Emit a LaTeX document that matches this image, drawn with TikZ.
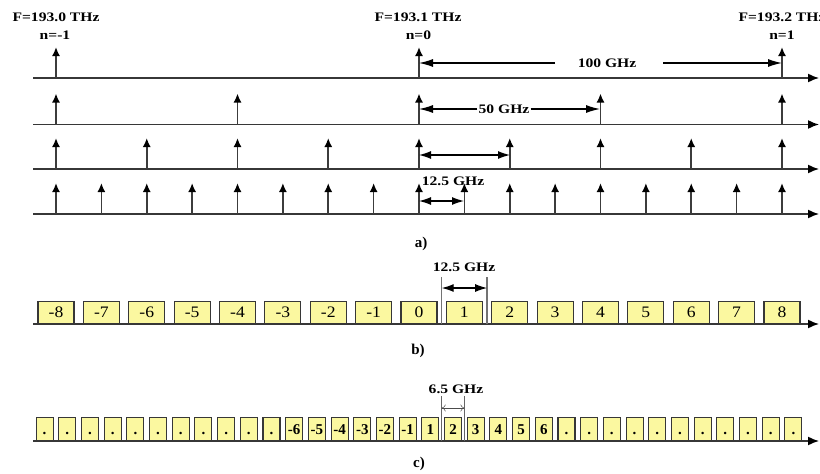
\documentclass[tikz,border=0pt]{standalone}
\usepackage{fontspec}
\setmainfont{Liberation Serif}
\newfontfamily\labfont{Liberation Serif}[FakeStretch=1.2]
\newfontfamily\numfont{Liberation Serif}[FakeStretch=1.1]
\usetikzlibrary{arrows.meta}
\definecolor{boxyellow}{RGB}{251,248,160}
\definecolor{axgray}{RGB}{55,55,55}
\definecolor{stemgray}{RGB}{60,60,60}
\begin{document}
\begin{tikzpicture}[x=1pt,y=-1pt,
  axis/.style={draw=axgray,line width=1.5pt,-{Latex[length=11pt,width=9pt,color=black]}},
  stem/.style={draw=stemgray,line width=1.7pt,-{Latex[length=9pt,width=8pt,color=black]}},
  dimarrow/.style={draw=black,line width=1.2pt,-{Latex[length=14pt,width=8pt]}},
  dimboth/.style={draw=black,line width=1.2pt,{Latex[length=12pt,width=8pt]}-{Latex[length=12pt,width=8pt]}},
  thinboth/.style={draw=black!70,line width=0.5pt,{To[length=4pt,width=7pt]}-{To[length=4pt,width=7pt]}},
  guide/.style={draw=black!55,line width=1.4pt},
  thinguide/.style={draw=black!60,line width=0.9pt},
  lab/.style={font=\labfont\bfseries\fontsize{13}{13}\selectfont,inner sep=1pt},
  partlabel/.style={font=\bfseries\fontsize{15}{15}\selectfont,inner sep=1pt},
  bbox/.style={draw=axgray,line width=1.1pt,fill=boxyellow,minimum width=36pt,minimum height=22pt,inner sep=0pt,anchor=south,
    text height=11pt,text depth=0pt,font=\numfont\fontsize{16}{16}\selectfont},
  cbox/.style={draw=axgray,line width=1.1pt,fill=boxyellow,minimum width=17pt,minimum height=23pt,inner sep=0pt,anchor=south,
    text height=10.5pt,text depth=0pt,font=\bfseries\fontsize{15}{15}\selectfont}
]
\useasboundingbox (0,0) rectangle (820,474);

% ---------------- a) rows ----------------
\foreach \r/\y/\ks in {1/78/{0,8,16},2/124.5/{0,4,8,12,16},3/169/{0,2,4,6,8,10,12,14,16},4/214/{0,1,2,3,4,5,6,7,8,9,10,11,12,13,14,15,16}}{
  \coordinate (as\r) at (33,\y);
  \coordinate (ae\r) at (819,\y);
  \draw[axis] (as\r) -- (ae\r);
  \foreach \k in \ks {
    \pgfmathsetmacro{\xx}{56+\k*45.375}
    \pgfmathsetmacro{\yt}{\y-31}
    \coordinate (v\r-\k) at (\xx,\y);
    \coordinate (vt\r-\k) at (\xx,\yt);
    \draw[stem] (v\r-\k) -- (vt\r-\k);
  }
}

% top labels
\node[lab] (F0) at (56,17) {F=193.0 THz};
\node[lab] (n0) at (55,35) {n=-1};
\node[lab] (F1) at (418,17) {F=193.1 THz};
\node[lab] (n1) at (418.5,35) {n=0};
\node[lab] (F2) at (782,17) {F=193.2 THz};
\node[lab] (n2) at (782,35) {n=1};

% 100 GHz
\node[lab] (d100) at (607,63) {100 GHz};
\coordinate (d100l) at (555,63);
\coordinate (d100r) at (663,63);
\coordinate (p100a) at (419,63);
\coordinate (p100b) at (782,63);
\draw[dimarrow] (d100l) -- (p100a);
\draw[dimarrow] (d100r) -- (p100b);

% 50 GHz
\node[lab] (d50) at (504,109) {50 GHz};
\coordinate (p50a) at (419,109);
\coordinate (p50b) at (600,109);
\draw[dimarrow] (d50.west) -- (p50a);
\draw[dimarrow] (d50.east) -- (p50b);

% 25 GHz (row 3)
\coordinate (p25a) at (419,155);
\coordinate (p25b) at (510,155);
\draw[dimboth] (p25a) -- (p25b);

% 12.5 GHz (row 4)
\node[lab] (d125) at (453,181) {12.5 GHz};
\coordinate (p12a) at (419,201);
\coordinate (p12b) at (464,201);
\draw[dimboth] (p12a) -- (p12b);

\node[partlabel] (capa) at (421,244) {a)};

% ---------------- b) ----------------
\coordinate (bs) at (33,324);
\coordinate (be) at (819,324);
\foreach \k in {-8,...,8}{
  \pgfmathsetmacro{\xx}{419+\k*45.375}
  \node[bbox] (b\k) at (\xx,324) {\k};
}
\draw[axis] (bs) -- (be);
\coordinate (bg1t) at (441.7,277);
\coordinate (bg1b) at (441.7,324);
\coordinate (bg2t) at (487.1,277);
\coordinate (bg2b) at (487.1,324);
\draw[guide] (bg1t) -- (bg1b);
\draw[guide] (bg2t) -- (bg2b);
\coordinate (bda) at (441.7,288);
\coordinate (bdb) at (487.1,288);
\draw[dimboth] (bda) -- (bdb);
\node[lab] (bd) at (464,267) {12.5 GHz};
\node[partlabel] (capb) at (418,351) {b)};

% ---------------- c) ----------------
\coordinate (cs) at (33,441);
\coordinate (ce) at (819,441);
\foreach \j in {-16,...,17}{
  \pgfmathsetmacro{\xx}{419+(\j-0.5)*22.69}
  \ifnum\j<-5
    \node[cbox] (c\j) at (\xx,441) {.};
  \else\ifnum\j<1
    \pgfmathtruncatemacro{\lbl}{\j-1}
    \node[cbox] (c\j) at (\xx,441) {\lbl};
  \else\ifnum\j<7
    \node[cbox] (c\j) at (\xx,441) {\j};
  \else
    \node[cbox] (c\j) at (\xx,441) {.};
  \fi\fi\fi
}
\draw[axis] (cs) -- (ce);
\coordinate (cg1t) at (441.7,396);
\coordinate (cg1b) at (441.7,441);
\coordinate (cg2t) at (464.4,396);
\coordinate (cg2b) at (464.4,441);
\draw[thinguide] (cg1t) -- (cg1b);
\draw[thinguide] (cg2t) -- (cg2b);
\coordinate (cda) at (441.7,408);
\coordinate (cdb) at (464.4,408);
\draw[thinboth] (cda) -- (cdb);
\node[lab] (cd) at (456,389) {6.5 GHz};
\node[partlabel] (capc) at (419,464) {c)};
\end{tikzpicture}
\end{document}
